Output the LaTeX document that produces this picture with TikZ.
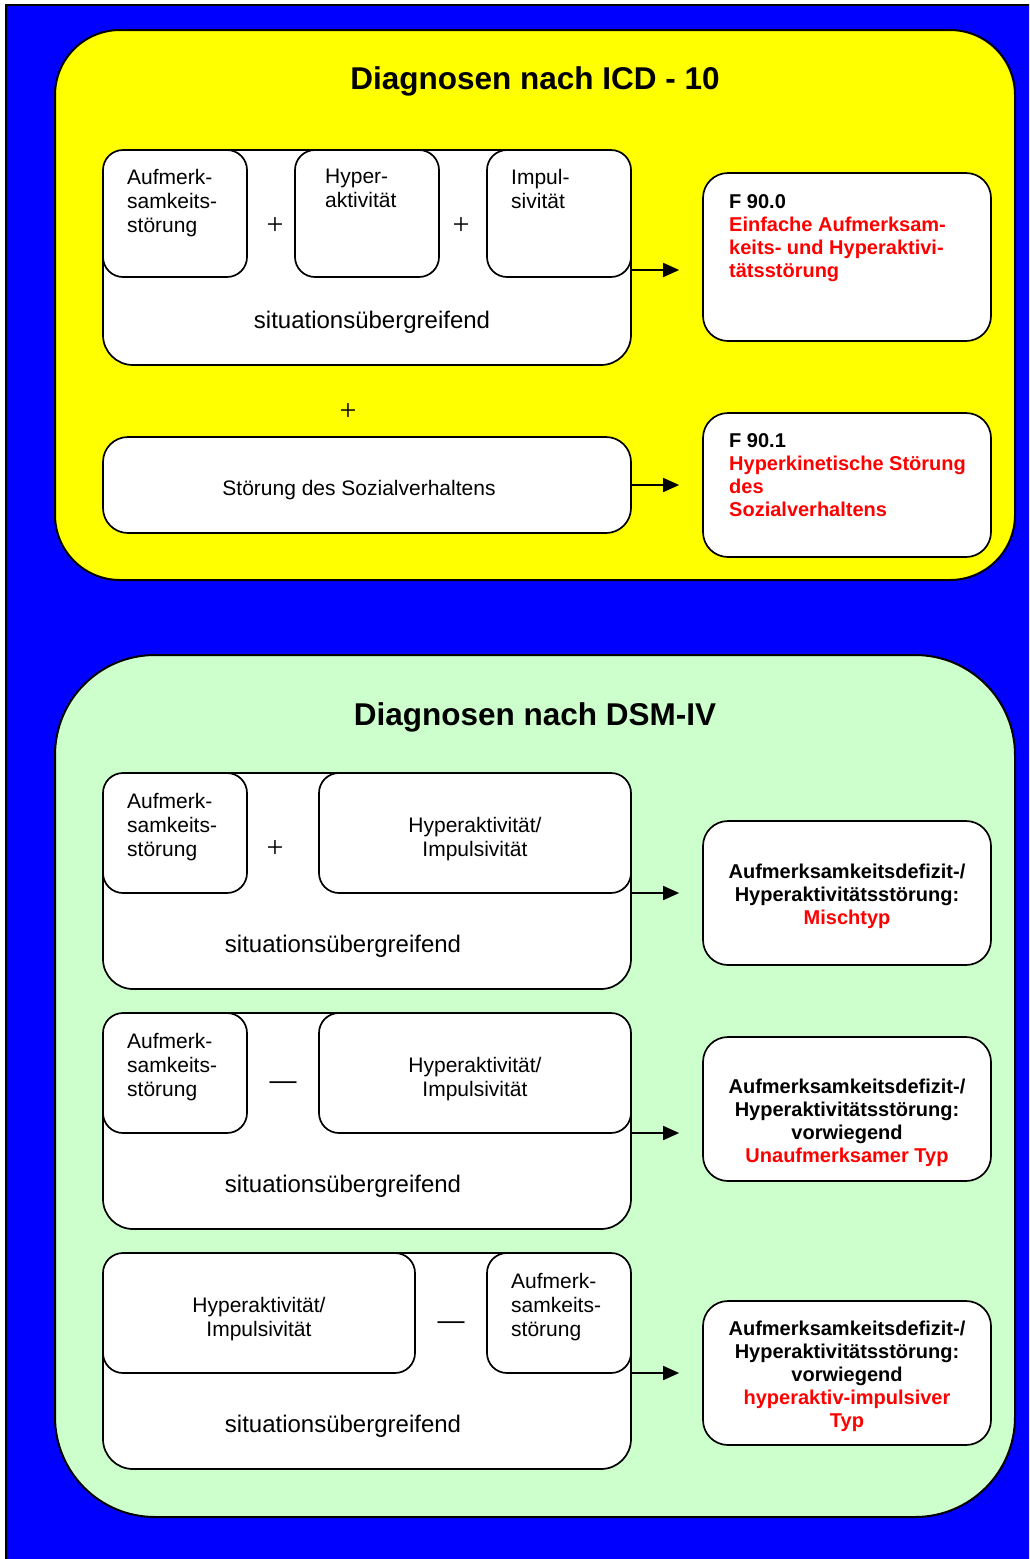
\documentclass[tikz,border=0pt]{standalone}
\usepackage{fontspec}
\setmainfont{Liberation Sans}
\newfontfamily\plusfont{Liberation Serif}
\usetikzlibrary{arrows.meta}
\definecolor{bgblue}{RGB}{0,0,255}
\definecolor{panelyellow}{RGB}{255,255,0}
\definecolor{panelgreen}{RGB}{204,255,204}
\definecolor{txtred}{RGB}{255,0,0}
\begin{document}
\begin{tikzpicture}[x=1pt,y=-1pt,
  panel/.style={draw=black, line width=2pt},
  wbox/.style={draw=black, fill=white, line width=1.7pt, inner sep=0pt},
  title/.style={font=\fontsize{31.5}{36}\bfseries\selectfont, inner sep=0pt},
  ltxt/.style={font=\fontsize{21}{24}\selectfont, align=left, inner sep=0pt, anchor=north west},
  ctxt/.style={font=\fontsize{21}{24}\selectfont, align=center, inner sep=0pt},
  sit/.style={font=\fontsize{24}{27}\selectfont, inner sep=0pt},
  btxt/.style={font=\fontsize{20}{23}\bfseries\selectfont, align=left, inner sep=0pt, anchor=north west},
  bctxt/.style={font=\fontsize{20}{23}\bfseries\selectfont, align=center, inner sep=0pt},
  op/.style={font=\plusfont\fontsize{30}{30}\selectfont, inner sep=0pt},
  dashop/.style={font=\fontsize{27}{27}\selectfont, inner sep=0pt},
  arr/.style={line width=1.7pt, -{Triangle[length=16pt,width=14pt]}, shorten >=23pt}
]
\useasboundingbox (0,0) rectangle (1029,1559);
\clip (0,0) rectangle (1029,1559);
% background
\draw[fill=bgblue, line width=2pt] (6,5) rectangle (1045,1575);
% panels
\draw[panel, fill=panelyellow, rounded corners=65pt] (55,30) rectangle (1015,580);
\draw[panel, fill=panelgreen, rounded corners=100pt] (55,655) rectangle (1015,1517);

% ===== ICD-10 =====
\node[title] (t1) at (535,81) {Diagnosen nach ICD - 10};
\node[wbox, rounded corners=30pt, minimum width=528pt, minimum height=215pt] (g1) at (367,257.5) {};
\node[wbox, rounded corners=20pt, minimum width=144pt, minimum height=127pt] (a1) at (175,213.5) {};
\node[wbox, rounded corners=20pt, minimum width=144pt, minimum height=127pt] (h1) at (367,213.5) {};
\node[wbox, rounded corners=20pt, minimum width=144pt, minimum height=127pt] (i1) at (559,213.5) {};
\node[ltxt] (a1t) at (127,169) {Aufmerk-\\samkeits-\\störung};
\node[ltxt] (h1t) at (325,169) {Hyper-\\aktivität};
\node[ltxt] (i1t) at (511,169) {Impul-\\sivität};
\node[op] (p1) at (275,226) {+};
\node[op] (p2) at (461,226) {+};
\node[sit] (s1) at (372,322) {situationsübergreifend};
\node[wbox, rounded corners=25pt, minimum width=288pt, minimum height=168pt] (r1) at (847,257) {};
\node[btxt] (r1t) at (729,194) {F 90.0\\\textcolor{txtred}{Einfache Aufmerksam-}\\\textcolor{txtred}{keits- und Hyperaktivi-}\\\textcolor{txtred}{tätsstörung}};
\coordinate (o1) at (631,270);
\draw[arr] (o1) -- (o1 -| r1.west);

\node[op] (p3) at (348,412) {+};
\node[wbox, rounded corners=25pt, minimum width=528pt, minimum height=96pt] (so) at (367,485) {};
\node[ctxt] (sot) at (359,490) {Störung des Sozialverhaltens};
\node[wbox, rounded corners=25pt, minimum width=288pt, minimum height=144pt] (r2) at (847,485) {};
\node[btxt] (r2t) at (729,433) {F 90.1\\\textcolor{txtred}{Hyperkinetische Störung}\\\textcolor{txtred}{des}\\\textcolor{txtred}{Sozialverhaltens}};
\draw[arr] (so.east) -- (r2.west);

% ===== DSM-IV =====
\node[title] (t2) at (535,717) {Diagnosen nach DSM-IV};
% group 1
\node[wbox, rounded corners=30pt, minimum width=528pt, minimum height=216pt] (g2) at (367,881) {};
\node[wbox, rounded corners=20pt, minimum width=144pt, minimum height=120pt] (a2) at (175,833) {};
\node[wbox, rounded corners=20pt, minimum width=312pt, minimum height=120pt] (hi2) at (475,833) {};
\node[ltxt] (a2t) at (127,793) {Aufmerk-\\samkeits-\\störung};
\node[ctxt] (hi2t) at (475,839) {Hyperaktivität/\\Impulsivität};
\node[op] (p4) at (275,849) {+};
\node[sit] (s2) at (343,946) {situationsübergreifend};
\node[wbox, rounded corners=25pt, minimum width=288pt, minimum height=144pt] (r3) at (847,893) {};
\node[bctxt] (r3t) at (847,896) {Aufmerksamkeitsdefizit-/\\Hyperaktivitätsstörung:\\\textcolor{txtred}{Mischtyp}};
\coordinate (o2) at (631,893);
\draw[arr] (o2) -- (o2 -| r3.west);
% group 2
\node[wbox, rounded corners=30pt, minimum width=528pt, minimum height=216pt] (g3) at (367,1121) {};
\node[wbox, rounded corners=20pt, minimum width=144pt, minimum height=120pt] (a3) at (175,1073) {};
\node[wbox, rounded corners=20pt, minimum width=312pt, minimum height=120pt] (hi3) at (475,1073) {};
\node[ltxt] (a3t) at (127,1033) {Aufmerk-\\samkeits-\\störung};
\node[ctxt] (hi3t) at (475,1079) {Hyperaktivität/\\Impulsivität};
\node[dashop] (d1) at (283,1086) {—};
\node[sit] (s3) at (343,1186) {situationsübergreifend};
\node[wbox, rounded corners=25pt, minimum width=288pt, minimum height=144pt] (r4) at (847,1109) {};
\node[bctxt] (r4t) at (847,1123) {Aufmerksamkeitsdefizit-/\\Hyperaktivitätsstörung:\\vorwiegend\\\textcolor{txtred}{Unaufmerksamer Typ}};
\coordinate (o3) at (631,1133);
\draw[arr] (o3) -- (o3 -| r4.west);
% group 3
\node[wbox, rounded corners=30pt, minimum width=528pt, minimum height=216pt] (g4) at (367,1361) {};
\node[wbox, rounded corners=20pt, minimum width=312pt, minimum height=120pt] (hi4) at (259,1313) {};
\node[wbox, rounded corners=20pt, minimum width=144pt, minimum height=120pt] (a4) at (559,1313) {};
\node[ctxt] (hi4t) at (259,1319) {Hyperaktivität/\\Impulsivität};
\node[ltxt] (a4t) at (511,1273) {Aufmerk-\\samkeits-\\störung};
\node[dashop] (d2) at (451,1326) {—};
\node[sit] (s4) at (343,1426) {situationsübergreifend};
\node[wbox, rounded corners=25pt, minimum width=288pt, minimum height=144pt] (r5) at (847,1373) {};
\node[bctxt] (r5t) at (847,1376) {Aufmerksamkeitsdefizit-/\\Hyperaktivitätsstörung:\\vorwiegend\\\textcolor{txtred}{hyperaktiv-impulsiver}\\\textcolor{txtred}{Typ}};
\coordinate (o4) at (631,1373);
\draw[arr] (o4) -- (o4 -| r5.west);
\end{tikzpicture}
\end{document}
